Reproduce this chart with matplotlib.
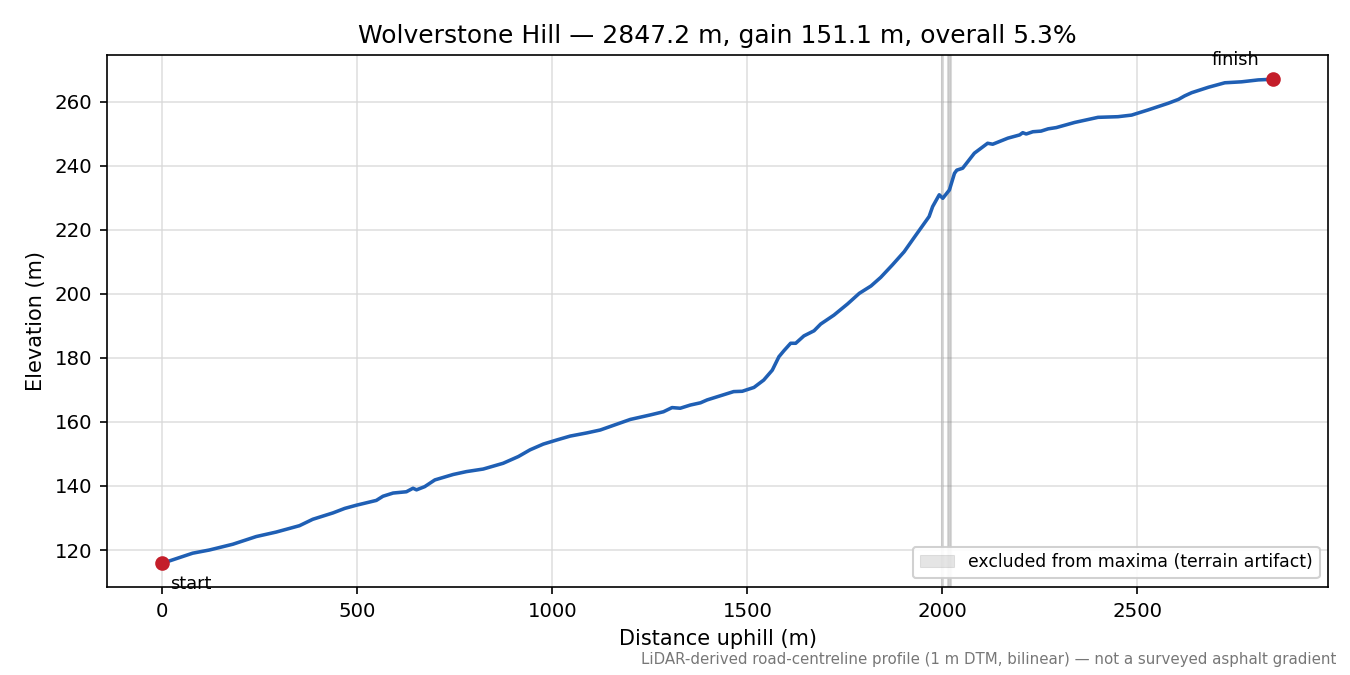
import matplotlib
matplotlib.use("Agg")
import matplotlib.pyplot as plt

distance_m = [0, 14, 78, 121, 181, 241, 292, 352, 386, 438, 468, 498, 549, 566, 592, 626,
              643, 652, 673, 699, 746, 780, 823, 874, 913, 943, 977, 1012, 1046, 1089, 1123,
              1200, 1251, 1285, 1307, 1328, 1354, 1380, 1397, 1431, 1465, 1487, 1517, 1542,
              1564, 1581, 1594, 1611, 1624, 1645, 1671, 1688, 1722, 1757, 1787, 1817, 1842,
              1872, 1902, 1928, 1966, 1975, 1992, 2001, 2018, 2031, 2037, 2052, 2082, 2116,
              2129, 2168, 2198, 2206, 2215, 2232, 2253, 2271, 2292, 2339, 2399, 2450, 2485,
              2527, 2579, 2605, 2621, 2639, 2682, 2724, 2767, 2810, 2847.2]
elevation_m = [116.0, 116.4, 119.0, 120.0, 121.8, 124.2, 125.6, 127.6, 129.6, 131.6, 133.0,
               134.0, 135.5, 136.8, 137.8, 138.2, 139.3, 138.8, 139.8, 141.9, 143.6, 144.5,
               145.3, 147.1, 149.2, 151.3, 153.1, 154.4, 155.6, 156.6, 157.5, 160.8, 162.2,
               163.2, 164.5, 164.3, 165.3, 166.0, 166.9, 168.2, 169.5, 169.6, 170.8, 173.1,
               176.2, 180.4, 182.3, 184.6, 184.6, 186.9, 188.5, 190.6, 193.4, 196.9, 200.2,
               202.5, 205.2, 209.1, 213.2, 217.7, 224.2, 227.3, 231.0, 229.9, 232.5, 237.7,
               238.7, 239.3, 244.0, 247.1, 246.8, 248.7, 249.7, 250.4, 250.0, 250.7, 250.9,
               251.6, 252.0, 253.6, 255.2, 255.4, 255.9, 257.5, 259.6, 260.8, 261.9, 262.9,
               264.6, 266.0, 266.3, 266.9, 267.1]
excluded_spans = [(1997, 2002), (2013, 2021), (2015, 2019)]

title = "Wolverstone Hill \u2014 2847.2 m, gain 151.1 m, overall 5.3%"
footnote = "LiDAR-derived road-centreline profile (1 m DTM, bilinear) \u2014 not a surveyed asphalt gradient"

fig = plt.figure(figsize=(9, 4.5), dpi=150)
ax = fig.add_axes([0.079, 0.1304, 0.905, 0.788])

for i, (a, b) in enumerate(excluded_spans):
    ax.axvspan(a, b, facecolor="grey", edgecolor="grey", alpha=0.2, lw=0.5,
               label="excluded from maxima (terrain artifact)" if i == 0 else None)

ax.plot(distance_m, elevation_m, color="#1f5fb4", lw=1.7, zorder=3)
ax.plot([distance_m[0], distance_m[-1]], [elevation_m[0], elevation_m[-1]], "o",
        color="#c41e2a", ms=6, zorder=4)
ax.annotate("start", (distance_m[0], elevation_m[0]), xytext=(4, -6),
            textcoords="offset points", ha="left", va="top", fontsize=8.5)
ax.annotate("finish", (distance_m[-1], elevation_m[-1]), xytext=(-18, 5),
            textcoords="offset points", ha="center", va="bottom", fontsize=8.5)

ax.grid(True, color="#d8d8d8", lw=0.8, alpha=0.8)
ax.set_axisbelow(True)
ax.set_xlabel("Distance uphill (m)", fontsize=10)
ax.set_ylabel("Elevation (m)", fontsize=10)
ax.set_title(title, fontsize=12)
ax.tick_params(labelsize=9.5)
ax.legend(loc="lower right", fontsize=8.3, framealpha=0.9)
fig.text(0.99, 0.012, footnote, ha="right", va="bottom", fontsize=7.2, color="#777777")

fig.savefig("out.png", dpi=150)
